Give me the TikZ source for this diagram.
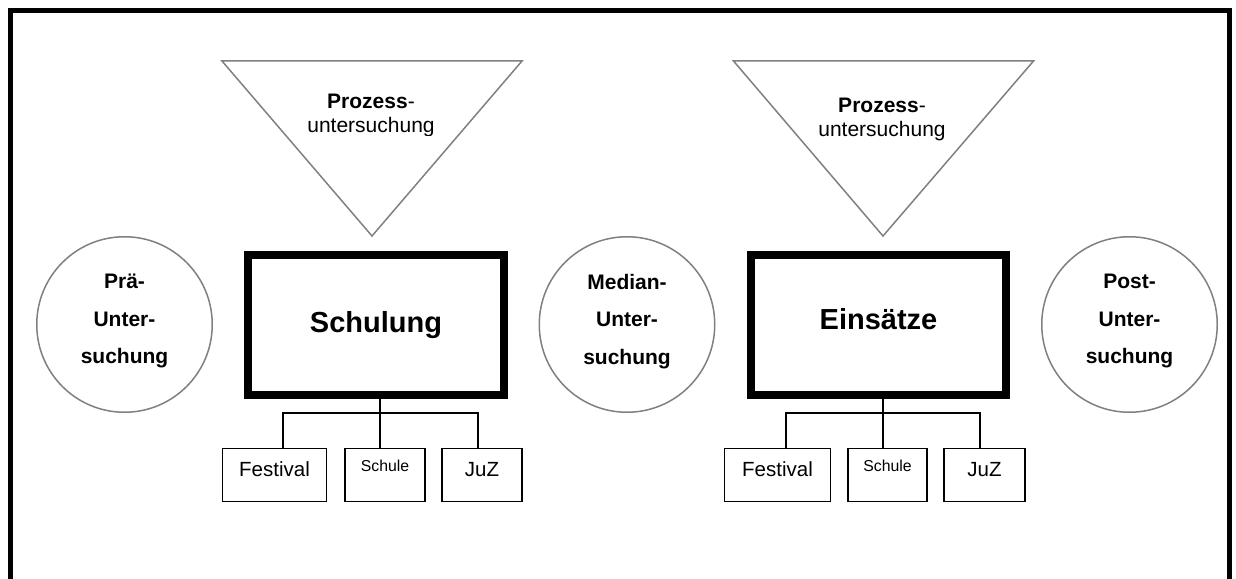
\documentclass[tikz,border=0pt]{standalone}
\usepackage{fontspec}
\setmainfont{Liberation Sans}
\begin{document}
\begin{tikzpicture}[x=1pt,y=-1pt,
  outline/.style={draw=black!50,line width=1.5pt},
  circ/.style={outline,circle,minimum size=175.5pt,inner sep=0pt,align=center,font=\fontsize{21}{37.5}\selectfont\bfseries},
  bigbox/.style={draw=black,line width=7.5pt,minimum height=140pt,inner sep=0pt,font=\fontsize{29}{34}\selectfont\bfseries},
  subbox/.style={draw=black,line width=1.3pt,minimum height=53pt,inner sep=0pt,font=\fontsize{20.5}{24}\selectfont,text height=10pt,text depth=8pt},
  smalltext/.style={font=\fontsize{15.8}{18}\selectfont,text height=2pt,text depth=9pt},
  tritext/.style={anchor=north,inner sep=0pt,align=center,font=\fontsize{21}{24}\selectfont},
  conn/.style={draw=black,line width=1.3pt},
  frame/.style={draw=black,line width=5pt}
  ]
\clip (0,0) rectangle (1236,578);
\fill[white] (0,0) rectangle (1236,578);
% outer frame
\draw[frame] (10.5,590) -- (10.5,10.5) -- (1229.5,10.5) -- (1229.5,590);

% triangles
\coordinate (t1a) at (222,61); \coordinate (t1b) at (522,61); \coordinate (t1c) at (372,236);
\coordinate (t2a) at (733.5,61); \coordinate (t2b) at (1033.5,61); \coordinate (t2c) at (883,236);
\draw[outline] (t1a) -- (t1b) -- (t1c) -- cycle;
\draw[outline] (t2a) -- (t2b) -- (t2c) -- cycle;
\begin{scope}
\clip (290,85) rectangle (460,135.5);
\node[tritext] (P1) at (371,94.3) {\textbf{Prozess}-\\untersuchung};
\end{scope}
\node[tritext] (P2) at (882,98.3) {\textbf{Prozess}-\\untersuchung};

% circles
\node[circ] (C1) at (124.5,324.5) {Prä-\\Unter-\\suchung\rule[-11pt]{0pt}{11pt}};
\node[circ] (C2) at (627,324.5) {Median-\\Unter-\\suchung\rule[-11pt]{0pt}{11pt}};
\node[circ] (C3) at (1129.5,324.5) {Post-\\Unter-\\suchung\rule[-11pt]{0pt}{11pt}};

% main boxes
\node[bigbox,minimum width=256pt,text height=21pt,text depth=7pt] (S) at (376,325) {Schulung};
\node[bigbox,minimum width=255pt,text height=21pt,text depth=12pt] (E) at (878.5,325) {Einsätze};

% sub boxes
\node[subbox,minimum width=104pt] (F1) at (274.5,475) {Festival};
\node[subbox,smalltext,minimum width=80pt] (K1) at (385,475) {Schule};
\node[subbox,minimum width=80pt] (J1) at (482,475) {JuZ};
\node[subbox,minimum width=106pt] (F2) at (777.5,475) {Festival};
\node[subbox,smalltext,minimum width=79pt] (K2) at (887.5,475) {Schule};
\node[subbox,minimum width=81pt] (J2) at (984.5,475) {JuZ};

% connectors
\coordinate (j1) at (380,413); \coordinate (l1) at (283,413); \coordinate (r1) at (478,413);
\coordinate (j2) at (883,413); \coordinate (l2) at (786,413); \coordinate (r2) at (980,413);
\draw[conn] (j1 |- S.south) -- (j1 |- K1.north);
\draw[conn] (l1 |- F1.north) -- (l1) -- (r1) -- (r1 |- J1.north);
\draw[conn] (j2 |- E.south) -- (j2 |- K2.north);
\draw[conn] (l2 |- F2.north) -- (l2) -- (r2) -- (r2 |- J2.north);
\end{tikzpicture}
\end{document}
